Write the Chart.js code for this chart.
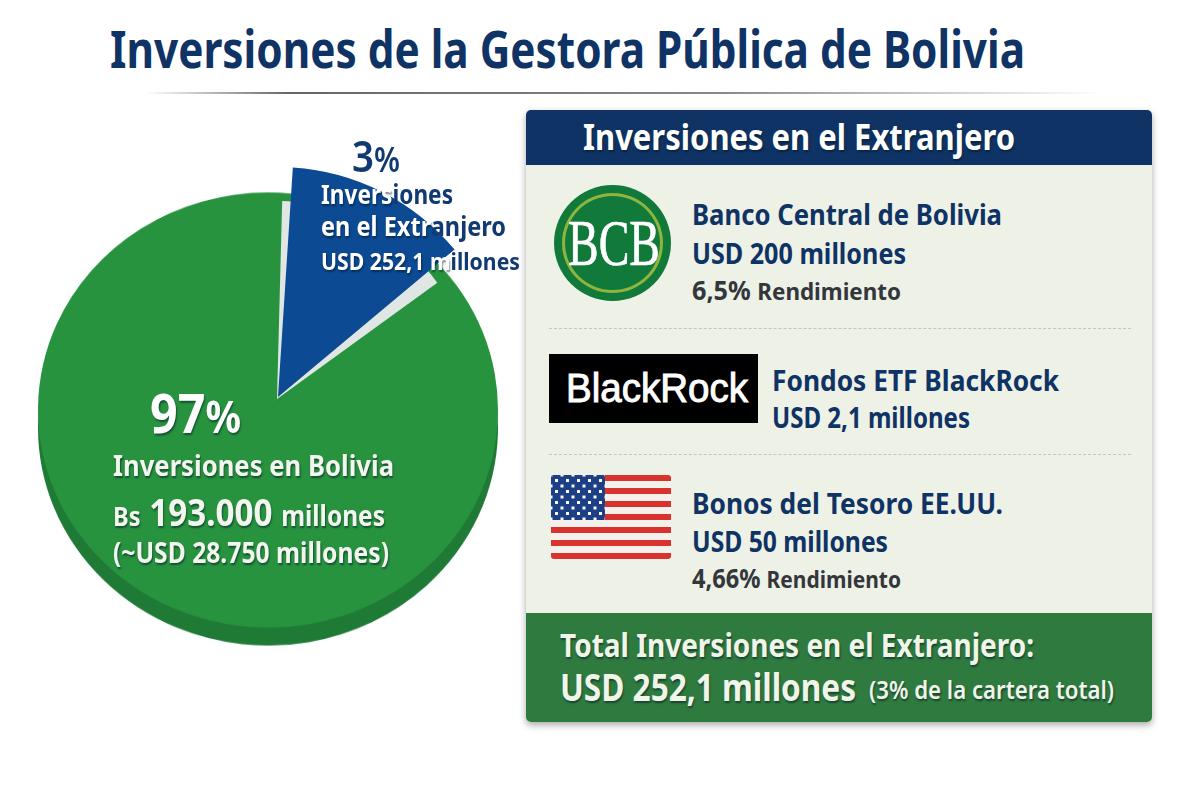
<!DOCTYPE html>
<html lang="es">
<head>
  <meta charset="UTF-8">
  <title>Inversiones de la Gestora Pública de Bolivia</title>
  <script src="https://cdn.jsdelivr.net/npm/chart.js"></script>
  <style>
    html, body { margin: 0; padding: 0; background: #fff; }
    #stage {
      position: relative;
      width: 1200px;
      height: 800px;
      overflow: hidden;
      font-family: 'Noto Sans', sans-serif;
    }
    #stage canvas { position: absolute; }
    .line { position: absolute; white-space: nowrap; transform-origin: left center; line-height: 1; }
    .box { position: absolute; }
    #rule {
      left: 145px; top: 92px; width: 960px; height: 2px;
      background: linear-gradient(90deg, rgba(70,70,70,0), #666 15%, #888 60%, rgba(120,120,120,0));
    }
    #panel {
      left: 526px; top: 110px; width: 626px; height: 612px;
      background: #eef1e6; border-radius: 5px;
      box-shadow: 0 3px 7px rgba(0,0,0,.35);
      overflow: hidden;
    }
    #panelHead { left: 0; top: 0; width: 626px; height: 55px; background: #0f3364; }
    #panelFoot { left: 0; top: 503px; width: 626px; height: 109px; background: #2f7a3f; }
    .dash { left: 549px; width: 582px; height: 0; border-top: 1px dashed #c3c6ba; }
    #bcbLogo {
      left: 554px; top: 185px; width: 117px; height: 116px; border-radius: 50%;
      background: #11793a; box-sizing: border-box;
    }
    #bcbRing {
      left: 562px; top: 193px; width: 101px; height: 100px; border-radius: 50%;
      border: 3px solid #8fb53f; box-sizing: border-box;
    }
    #brLogo { left: 549px; top: 354px; width: 209px; height: 69px; background: #000; }
    #flag {
      left: 551px; top: 475px; width: 120px; height: 84px; border-radius: 3px; overflow: hidden;
      background: repeating-linear-gradient(180deg, #d8332e 0, #d8332e 6.46px, #f4f1ec 6.46px, #f4f1ec 12.92px);
    }
    #canton {
      left: 0; top: 0; width: 54px; height: 45px; background-color: #1d3f86;
      background-image: radial-gradient(circle, #fff 1.4px, transparent 1.8px),
                        radial-gradient(circle, #fff 1.4px, transparent 1.8px);
      background-size: 11px 11px;
      background-position: 0 0, 5.5px 5.5px;
    }
  </style>
</head>
<body>
<div id="stage">
  <div class="box" id="rule"></div>

  <canvas id="pieBolivia" width="460" height="460"
          style="left:38px;top:180px;transform:scaleY(.946);filter:drop-shadow(0 19px 0 #1f7a36)"></canvas>
  <canvas id="pieBand" width="396" height="396" style="left:79px;top:201px"></canvas>
  <canvas id="pieAbroad" width="460" height="460" style="left:48px;top:167px"></canvas>

  <div class="box" id="panel">
    <div class="box" id="panelHead"></div>
    <div class="box" id="panelFoot"></div>
  </div>
  <div class="box dash" style="top:328px"></div>
  <div class="box dash" style="top:454px"></div>
  <div class="box" id="bcbLogo"></div>
  <div class="box" id="bcbRing"></div>
  <div class="box" id="brLogo"></div>
  <div class="box" id="flag"><div class="box" id="canton"></div></div>
</div>

<script>
  const titleText = 'Inversiones de la Gestora Pública de Bolivia';
  const panelTitle = 'Inversiones en el Extranjero';

  // portfolio shares as printed on the picture
  const shareLabels = ['Inversiones en el Extranjero', 'Inversiones en Bolivia'];
  const sharePrinted = ['3%', '97%'];
  // shares as actually drawn: the wedge in the picture is wider than its 3% label
  const shareDrawn = [12.9, 87.1];

  const holdingNames = ['Banco Central de Bolivia', 'Fondos ETF BlackRock', 'Bonos del Tesoro EE.UU.'];
  const holdingUsd = ['200', '2,1', '50'];
  const holdingYield = ['6,5%', '', '4,66%'];
  const totalUsd = '252,1';
  const boliviaBs = '193.000';
  const boliviaUsd = '28.750';

  const NAVY = '#0f3364';
  const WHITE_SHADOW = '1px 2px 2px rgba(0,25,40,.55)';
  const stage = document.getElementById('stage');

  function pie(id, values, colors, rotation) {
    return new Chart(document.getElementById(id), {
      type: 'pie',
      data: {
        labels: shareLabels,
        datasets: [{ data: values, backgroundColor: colors, borderWidth: 0 }]
      },
      options: {
        responsive: false,
        animation: false,
        rotation: rotation,
        layout: { padding: 0 },
        plugins: { legend: { display: false }, tooltip: { enabled: false } }
      }
    });
  }

  pie('pieBolivia', shareDrawn, ['#28933f', '#28933f'], 0);
  // light band around the wedge, only a bit wider than the wedge itself
  pie('pieBand', [shareDrawn[0] + 1.7, shareDrawn[1] - 1.7], ['#dfe6e3', 'rgba(0,0,0,0)'], 1.5);
  pie('pieAbroad', shareDrawn, ['#0c4a93', 'rgba(0,0,0,0)'], 3.7);

  // one line of text: x and target width from the picture, y is the line centre
  function text(html, x, y, w, size, color, weight, shadow) {
    const el = document.createElement('div');
    el.className = 'line';
    el.innerHTML = html;
    el.style.left = x + 'px';
    el.style.top = y + 'px';
    el.style.fontSize = size + 'px';
    el.style.color = color;
    el.style.fontWeight = weight || 700;
    if (shadow) el.style.textShadow = shadow;
    stage.appendChild(el);
    const k = w / el.getBoundingClientRect().width;
    el.style.transform = 'translateY(-50%) scaleX(' + k + ')';
    return el;
  }

  function sized(str, size) { return '<span style="font-size:' + size + 'px">' + str + '</span>'; }

  text(titleText, 110, 48, 915, 52, NAVY);

  // pie labels
  text(sizedPct(sharePrinted[0], 44, 34), 352, 155, 48, 44, '#123a72', 600);
  text('Invers<span style="color:#123a72;text-shadow:none">iones</span>', 321, 194, 132, 26, '#fff', 700, WHITE_SHADOW);
  text('en el Extr<span style="color:#123a72;text-shadow:none">anjero</span>', 321, 226, 185, 26, '#fff', 700, WHITE_SHADOW);
  text('USD 252,1 m<span style="color:#123a72;text-shadow:none">illones</span>', 321, 261, 199, 24, '#fff', 700, WHITE_SHADOW);

  text(sizedPct(sharePrinted[1], 54, 44), 150, 412, 91, 54, '#fff', 700, WHITE_SHADOW);
  text(shareLabels[1], 113, 464, 281, 29, '#f2f6ee', 700, WHITE_SHADOW);
  text(sized('Bs', 27) + ' ' + sized(boliviaBs, 38) + ' ' + sized('millones', 28), 113, 511, 272, 38, '#f2f6ee', 700, WHITE_SHADOW);
  text('(~USD ' + boliviaUsd + ' millones)', 113, 552, 276, 28, '#f2f6ee', 700, WHITE_SHADOW);

  // panel
  text(panelTitle, 583, 136, 432, 35, '#fff', 700, WHITE_SHADOW);

  text(holdingNames[0], 692, 213, 310, 29, NAVY);
  text('USD ' + holdingUsd[0] + ' millones', 692, 253, 214, 28, NAVY);
  text(sized(holdingYield[0], 27) + ' ' + sized('Rendimiento', 24), 692, 289, 209, 27, '#33373b');

  text(holdingNames[1], 772, 379, 287, 29, NAVY);
  text('USD ' + holdingUsd[1] + ' millones', 772, 417, 198, 28, NAVY);

  text(holdingNames[2], 692, 502, 311, 29, NAVY);
  text('USD ' + holdingUsd[2] + ' millones', 692, 541, 196, 28, NAVY);
  text(sized(holdingYield[2], 27) + ' ' + sized('Rendimiento', 24), 692, 577, 209, 27, '#33373b');

  text('Total ' + panelTitle + ':', 560, 644, 474, 33, '#f0f5e8', 700, WHITE_SHADOW);
  text('USD ' + totalUsd + ' millones', 560, 686, 296, 38, '#f0f5e8', 700, WHITE_SHADOW);
  text('(3% de la cartera total)', 869, 689, 245, 26, '#f0f5e8', 600, WHITE_SHADOW);

  // logos
  const bcb = text('BCB', 568, 243, 92, 66, '#fff', 400);
  bcb.style.fontFamily = "'Liberation Serif', serif";
  bcb.style.webkitTextStroke = '0.7px #fff';
  fit(bcb, 92);
  const br = text('BlackRock', 566, 388, 182, 41, '#fff', 400);
  br.style.fontFamily = "'Liberation Sans', sans-serif";
  br.style.webkitTextStroke = '1px #fff';
  fit(br, 182);

  function fit(el, w) {
    el.style.transform = 'none';
    const k = w / el.getBoundingClientRect().width;
    el.style.transform = 'translateY(-50%) scaleX(' + k + ')';
  }

  function sizedPct(str, numSize, pctSize) {
    return sized(str.replace('%', ''), numSize) + sized('%', pctSize);
  }
</script>
</body>
</html>
